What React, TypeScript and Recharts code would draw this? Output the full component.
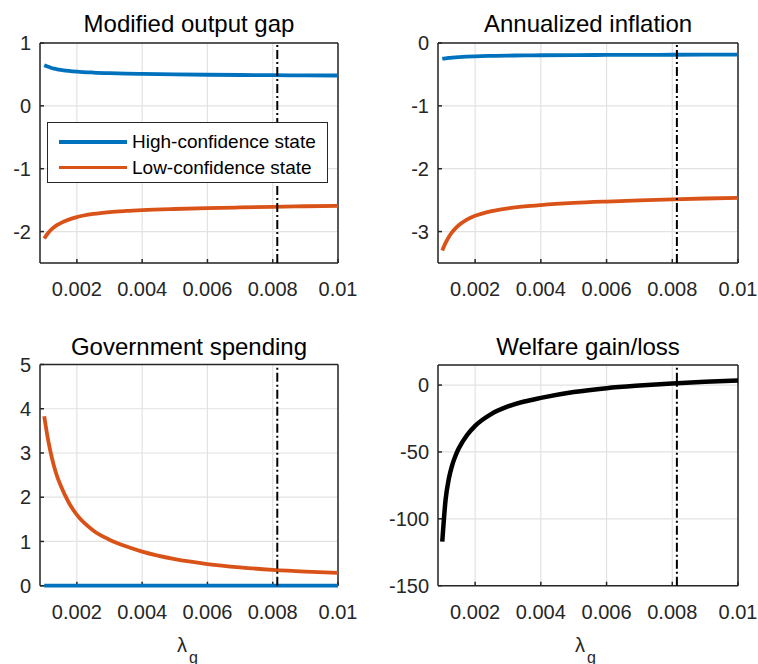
import React from 'react'
import {
  LineChart, Line, XAxis, YAxis, CartesianGrid, ReferenceLine, Legend,
} from 'recharts'

// lambda_g grid and the four panels' values
const LAMBDA = [0.001, 0.0011, 0.0012, 0.0013, 0.0014, 0.0015, 0.00175, 0.002, 0.0025, 0.003, 0.0035, 0.004, 0.005, 0.006, 0.007, 0.008, 0.009, 0.01]

const GAP_HIGH = [0.647, 0.625, 0.607, 0.593, 0.582, 0.573, 0.557, 0.545, 0.53, 0.52, 0.513, 0.508, 0.5, 0.495, 0.491, 0.488, 0.485, 0.483]
const GAP_LOW = [-2.11, -2.035, -1.975, -1.93, -1.895, -1.865, -1.81, -1.77, -1.72, -1.69, -1.672, -1.659, -1.641, -1.627, -1.616, -1.606, -1.597, -1.59]
const INF_HIGH = [-0.25, -0.243, -0.237, -0.232, -0.228, -0.225, -0.218, -0.212, -0.205, -0.2, -0.197, -0.195, -0.192, -0.19, -0.188, -0.187, -0.186, -0.185]
const INF_LOW = [-3.3, -3.18, -3.085, -3.01, -2.95, -2.9, -2.81, -2.75, -2.675, -2.63, -2.6, -2.578, -2.545, -2.522, -2.503, -2.487, -2.474, -2.463]
const GOV_HIGH = [0, 0, 0, 0, 0, 0, 0, 0, 0, 0, 0, 0, 0, 0, 0, 0, 0, 0]
const GOV_LOW = [3.83, 3.37, 3.0, 2.7, 2.46, 2.27, 1.88, 1.6, 1.25, 1.04, 0.89, 0.77, 0.6, 0.49, 0.415, 0.36, 0.32, 0.29]
const WELFARE = [-117, -86, -70, -60, -53, -47.5, -37.5, -30.5, -21.5, -16, -12.3, -9.6, -5.2, -2.3, -0.4, 1.1, 2.4, 3.5]

const X_TICKS = [0.002, 0.004, 0.006, 0.008, 0.01]
const X_TICK_LABELS = ['0.002', '0.004', '0.006', '0.008', '0.01']
const X_DOMAIN: [number, number] = [0.00087, 0.01]
const LAMBDA_STAR = 0.00814

const GAP_TICKS = [-2, -1, 0, 1]
const INF_TICKS = [-3, -2, -1, 0]
const GOV_TICKS = [0, 1, 2, 3, 4, 5]
const WELFARE_TICKS = [-150, -100, -50, 0]

const LEGEND_LABELS = ['High-confidence state', 'Low-confidence state']

const BLUE = '#0072BD'
const ORANGE = '#D95319'
const INK = '#262626'
const FONT = "'Liberation Sans', Arial, Helvetica, sans-serif"

const rows = LAMBDA.map((x, i) => ({
  x,
  gapHigh: GAP_HIGH[i],
  gapLow:  GAP_LOW[i],
  infHigh: INF_HIGH[i],
  infLow:  INF_LOW[i],
  govHigh: GOV_HIGH[i],
  govLow:  GOV_LOW[i],
  welfare: WELFARE[i],
}))

const fmtX = (v: number) => {
  const i = X_TICKS.findIndex(t => Math.abs(t - v) < 1e-9)
  return i >= 0 ? X_TICK_LABELS[i] : String(v)
}

function LegendBox() {
  const colors = [BLUE, ORANGE]
  return (
    <div
      style={{
        position: 'relative', width: 281, height: 61, boxSizing: 'border-box',
        background: '#fff', border: `1.5px solid ${INK}`, fontFamily: FONT,
      }}
    >
      {LEGEND_LABELS.map((label, i) => (
        <div key={label}>
          <div
            style={{
              position: 'absolute', left: 11, top: 19 + i * 25.6 - 1.9,
              width: 68, height: 3.8, background: colors[i],
            }}
          />
          <div
            style={{
              position: 'absolute', left: 84, top: 19 + i * 25.6 - 11,
              fontSize: 19, lineHeight: '22px', color: '#000', whiteSpace: 'nowrap',
            }}
          >
            {label}
          </div>
        </div>
      ))}
    </div>
  )
}

interface Series { key: string; color: string; width: number }

interface PanelProps {
  box:     [number, number, number, number]   // left, top, width, height on page
  plot:    [number, number, number, number]   // plot x0, y0, x1, y1 on page
  yDomain: [number, number]
  yTicks:  number[]
  series:  Series[]
  legend?: boolean
}

function Panel({ box, plot, yDomain, yTicks, series, legend }: PanelProps) {
  const [bl, bt, bw, bh] = box
  const [x0, y0, x1, y1] = plot
  const margin = {
    top:    y0 - bt - 1,
    right:  bl + bw - x1 - 1,
    bottom: bt + bh - y1 - 30,
    left:   0,
  }
  const axisStyle = { stroke: INK, strokeWidth: 1.5 }
  return (
    <div style={{ position: 'absolute', left: bl, top: bt }}>
      <LineChart width={bw} height={bh} data={rows} margin={margin}>
        <CartesianGrid stroke="#e2e2e2" strokeWidth={1.2} />
        <XAxis
          xAxisId="top" orientation="top" type="number" domain={X_DOMAIN} ticks={X_TICKS}
          allowDataOverflow height={1} tick={false} tickSize={-4}
          axisLine={axisStyle} tickLine={axisStyle}
        />
        <XAxis
          dataKey="x" type="number" domain={X_DOMAIN} ticks={X_TICKS} interval={0}
          height={30} tickSize={-4} tickMargin={23} tickFormatter={fmtX}
          tick={{ fontSize: 20, fill: INK, fontFamily: FONT }}
          axisLine={axisStyle} tickLine={axisStyle}
        />
        <YAxis
          type="number" domain={yDomain} ticks={yTicks} interval={0}
          width={x0 - bl} tickSize={-4} tickMargin={13}
          tick={{ fontSize: 20, fill: INK, fontFamily: FONT }}
          axisLine={axisStyle} tickLine={axisStyle}
        />
        <YAxis
          yAxisId="right" orientation="right" type="number" domain={yDomain} ticks={yTicks}
          allowDataOverflow width={1} tick={false} tickSize={-4}
          axisLine={axisStyle} tickLine={axisStyle}
        />
        {series.map(s => (
          <Line
            key={s.key}
            type="monotone"
            dataKey={s.key}
            stroke={s.color}
            strokeWidth={s.width}
            dot={false}
            activeDot={false}
            isAnimationActive={false}
            zIndex={600}
          />
        ))}
        <ReferenceLine
          x={LAMBDA_STAR} stroke="#000" strokeWidth={2} strokeDasharray="9 3 2 3" zIndex={650}
        />
        {legend && (
          <Legend
            layout="horizontal" verticalAlign="middle" align="center"
            wrapperStyle={{ left: 47, top: 122, width: 281, height: 61 }}
            content={() => <LegendBox />}
          />
        )}
      </LineChart>
    </div>
  )
}

const titleStyle = (center: number, top: number): React.CSSProperties => ({
  position: 'absolute', left: center - 160, top, width: 320, textAlign: 'center',
  fontSize: 24, lineHeight: '24px', color: '#000', whiteSpace: 'nowrap',
})

function LambdaLabel({ left }: { left: number }) {
  return (
    <>
      <span style={{ position: 'absolute', left, top: 635, fontSize: 20, lineHeight: '20px', color: INK }}>λ</span>
      <span style={{ position: 'absolute', left: left + 12, top: 649.5, fontSize: 16, lineHeight: '16px', color: INK }}>g</span>
    </>
  )
}

export default function App() {
  return (
    <div
      style={{
        position: 'absolute', left: 0, top: 0, width: 758, height: 664,
        background: '#fff', fontFamily: FONT, overflow: 'hidden',
      }}
    >
      <Panel
        box={[0, 0, 379, 320]} plot={[40, 43, 338, 263]}
        yDomain={[-2.5, 1]} yTicks={GAP_TICKS} legend
        series={[{ key: 'gapHigh', color: BLUE, width: 3.8 }, { key: 'gapLow', color: ORANGE, width: 3.8 }]}
      />
      <Panel
        box={[379, 0, 379, 320]} plot={[438, 43, 738, 263]}
        yDomain={[-3.5, 0]} yTicks={INF_TICKS}
        series={[{ key: 'infHigh', color: BLUE, width: 3.8 }, { key: 'infLow', color: ORANGE, width: 3.8 }]}
      />
      <Panel
        box={[0, 320, 379, 344]} plot={[40, 364.5, 338, 585.7]}
        yDomain={[0, 5]} yTicks={GOV_TICKS}
        series={[{ key: 'govHigh', color: BLUE, width: 3.8 }, { key: 'govLow', color: ORANGE, width: 3.8 }]}
      />
      <Panel
        box={[379, 320, 379, 344]} plot={[438, 365, 738, 585.7]}
        yDomain={[-150, 15]} yTicks={WELFARE_TICKS}
        series={[{ key: 'welfare', color: '#000', width: 4.5 }]}
      />

      <div style={titleStyle(189, 11.7)}>Modified output gap</div>
      <div style={titleStyle(588, 11.7)}>Annualized inflation</div>
      <div style={titleStyle(189, 334.7)}>Government spending</div>
      <div style={titleStyle(588, 334.7)}>Welfare gain/loss</div>

      <LambdaLabel left={177} />
      <LambdaLabel left={575} />
    </div>
  )
}
